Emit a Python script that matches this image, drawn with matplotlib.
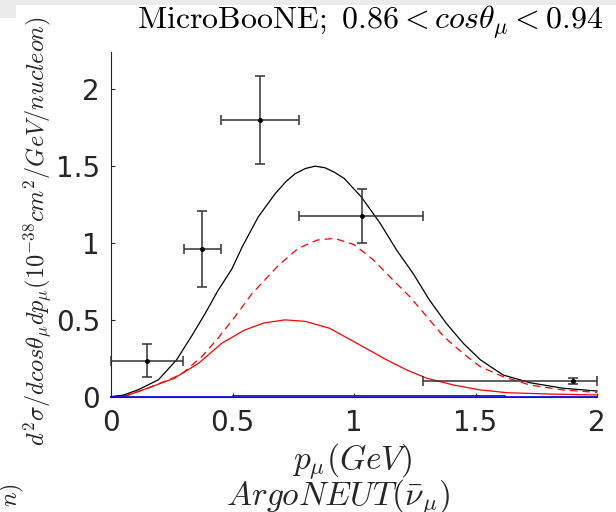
import matplotlib
matplotlib.use("Agg")
import matplotlib.pyplot as plt
from matplotlib.patches import Rectangle

plt.rcParams['mathtext.fontset'] = 'cm'
plt.rcParams['font.family'] = ['DejaVu Sans']

# measured cross sections (points with x/y ranges)
p_data = [0.15, 0.376, 0.613, 1.032, 1.903]
xs_data = [0.232, 0.963, 1.80, 1.176, 0.102]
xs_lo = [0.126, 0.714, 1.514, 0.998, 0.082]
xs_hi = [0.342, 1.208, 2.088, 1.35, 0.12]
p_lo = [0.0, 0.30, 0.453, 0.774, 1.285]
p_hi = [0.297, 0.451, 0.774, 1.285, 2.0]

# model: total
p_tot = [0, 0.05, 0.11, 0.195, 0.27, 0.33, 0.387, 0.44, 0.497, 0.54, 0.606,
         0.675, 0.72, 0.757, 0.80, 0.84, 0.88, 0.92, 0.96, 1.03, 1.107, 1.175,
         1.244, 1.31, 1.38, 1.45, 1.52, 1.614, 1.724, 1.86, 2.0]
xs_tot = [0, 0.01, 0.044, 0.11, 0.24, 0.39, 0.54, 0.69, 0.83, 0.975, 1.17,
          1.32, 1.40, 1.45, 1.485, 1.50, 1.49, 1.46, 1.42, 1.30, 1.13, 0.955,
          0.80, 0.63, 0.477, 0.347, 0.24, 0.141, 0.091, 0.055, 0.037]

# model: dashed red component
p_dash = [0, 0.06, 0.15, 0.26, 0.30, 0.373, 0.44, 0.51, 0.58, 0.69, 0.77,
          0.85, 0.92, 1.0, 1.08, 1.16, 1.23, 1.30, 1.37, 1.45, 1.52, 1.614,
          1.724, 1.86, 2.0]
xs_dash = [0, 0.005, 0.055, 0.125, 0.16, 0.26, 0.38, 0.52, 0.67, 0.856, 0.965,
           1.02, 1.03, 0.99, 0.89, 0.76, 0.65, 0.52, 0.39, 0.28, 0.195, 0.13,
           0.076, 0.044, 0.028]

# model: solid red component
p_red = [0, 0.06, 0.15, 0.26, 0.36, 0.455, 0.55, 0.63, 0.716, 0.80, 0.90,
         1.025, 1.134, 1.217, 1.30, 1.41, 1.52, 1.63, 1.79, 2.0]
xs_red = [0, 0.005, 0.055, 0.12, 0.217, 0.347, 0.434, 0.48, 0.50, 0.49, 0.445,
          0.336, 0.24, 0.174, 0.12, 0.076, 0.044, 0.026, 0.018, 0.011]

# model: blue component (almost zero)
p_blue = [0, 0.5, 0.5, 1.62, 1.62, 2.0]
xs_blue = [0, 0, 0.006, 0.006, 0, 0]

xticks = [0, 0.5, 1, 1.5, 2]
xtick_labels = ['0', '0.5', '1', '1.5', '2']
yticks = [0, 0.5, 1, 1.5, 2]
ytick_labels = ['0', '0.5', '1', '1.5', '2']

ylab = r'$d^2\sigma/dcos\theta_\mu dp_\mu(10^{-38}cm^2/GeV/nucleon)$'

fig = plt.figure(figsize=(6.16, 5.12), dpi=100)
ax = fig.add_axes([111 / 616, 1 - 396.7 / 512, 486 / 616, 344.7 / 512])

ax.plot(p_blue, xs_blue, color='#1010e0', lw=1.3, clip_on=False, zorder=4)
ax.plot(p_red, xs_red, color='red', lw=0.9, clip_on=False, zorder=3)
ax.plot(p_dash, xs_dash, color='red', lw=0.9, dashes=(6, 4), clip_on=False, zorder=3)
ax.plot(p_tot, xs_tot, color='black', lw=0.9, clip_on=False, zorder=3)

yerr = [[y - lo for y, lo in zip(xs_data, xs_lo)],
        [hi - y for y, hi in zip(xs_data, xs_hi)]]
xerr = [[x - lo for x, lo in zip(p_data, p_lo)],
        [hi - x for x, hi in zip(p_data, p_hi)]]
ax.errorbar(p_data, xs_data, xerr=xerr, yerr=yerr, fmt='o', color='black',
            ecolor='#333333', elinewidth=1.1, capsize=3.6, capthick=1.1,
            markersize=2.5, clip_on=False, zorder=5)

ax.set_xlim(0, 2)
ax.set_ylim(0, 2.243)
ax.set_xticks(xticks)
ax.set_xticklabels(xtick_labels)
ax.set_yticks(yticks)
ax.set_yticklabels(ytick_labels)

for side in ['top', 'right']:
    ax.spines[side].set_visible(False)
for side in ['left', 'bottom']:
    ax.spines[side].set_color('#262626')
    ax.spines[side].set_linewidth(0.8)
ax.tick_params(direction='in', length=3, width=0.8, color='#262626',
               labelcolor='#262626', labelsize=20)
ax.tick_params(axis='x', pad=9)
ax.tick_params(axis='y', pad=8)

fig.text(370 / 616, 1 - 22 / 512, r'$\mathrm{MicroBooNE;}\ 0.86 < cos\theta_\mu < 0.94$',
         ha='center', va='center', fontsize=23, color='black')
fig.text(352 / 616, 1 - 462 / 512, r'$p_\mu(GeV)$',
         ha='center', va='center', fontsize=24, color='#262626')
fig.text(338 / 616, 1 - 498 / 512, r'$ArgoNEUT(\bar{\nu}_\mu)$',
         ha='center', va='center', fontsize=24, color='#262626')
fig.text(38 / 616, 1 - 231 / 512, ylab,
         ha='center', va='center', rotation=90, fontsize=17.5, color='#262626')
# tail of the ylabel of the panel below
fig.text(12 / 616, 1 - 495 / 512, r'$n)$',
         ha='center', va='center', rotation=90, fontsize=17.5, color='#262626')

# light grey frame edge
fig.patches.append(Rectangle((0, 1 - 5 / 512), 1, 5 / 512, transform=fig.transFigure,
                             facecolor='#ececec', edgecolor='none', zorder=0))
fig.patches.append(Rectangle((0, 1 - 18 / 512), 16 / 616, 18 / 512, transform=fig.transFigure,
                             facecolor='#ececec', edgecolor='none', zorder=0))

fig.savefig('out.png', dpi=100)
